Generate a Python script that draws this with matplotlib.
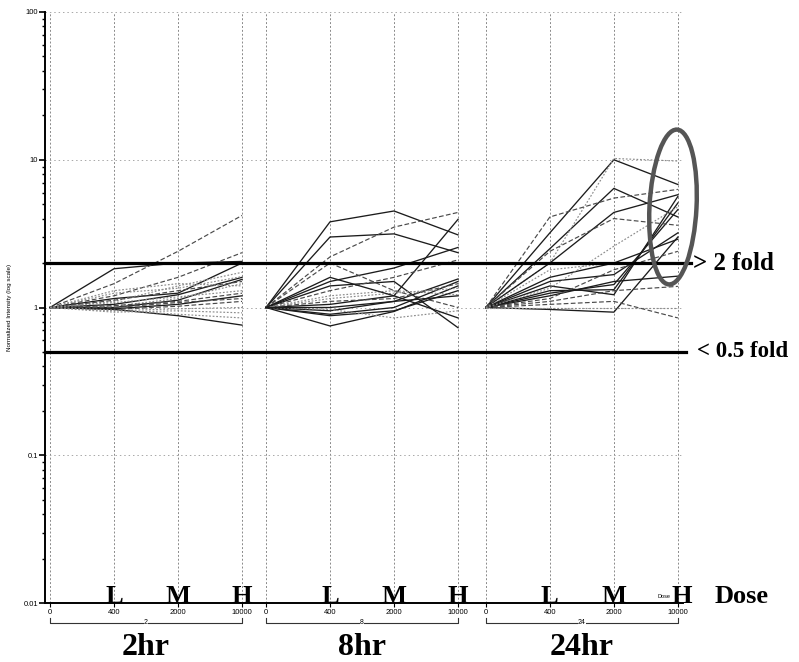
import numpy as np
import matplotlib
matplotlib.use("Agg")
import matplotlib.pyplot as plt
from matplotlib.patches import Ellipse
from matplotlib.transforms import IdentityTransform
from matplotlib.ticker import LogLocator, NullFormatter

# dose points and time panels
doses = ["0", "400", "2000", "10000"]
dose_letters = ["L", "M", "H"]
times = ["2", "8", "24"]
time_labels = ["2hr", "8hr", "24hr"]

# normalized intensity per gene (values at dose 0, 400, 2000, 10000)
hr2 = [
    [1, 1.83, 2.0, 2.05],
    [1, 1.45, 2.4, 4.2],
    [1, 1.2, 1.6, 2.35],
    [1, 1.15, 1.25, 2.0],
    [1, 1.1, 1.4, 1.73],
    [1, 1.05, 1.22, 1.6],
    [1, 1.0, 1.12, 1.55],
    [1, 1.02, 1.15, 1.45],
    [1, 1.12, 1.3, 1.5],
    [1, 0.98, 1.05, 1.2],
    [1, 1.0, 1.08, 1.15],
    [1, 0.97, 1.02, 1.1],
    [1, 0.95, 0.98, 1.0],
    [1, 0.97, 0.88, 0.76],
    [1, 0.93, 0.95, 0.92],
    [1, 1.25, 1.35, 1.62],
    [1, 1.03, 1.1, 1.25],
    [1, 1.08, 1.18, 1.3],
    [1, 0.96, 0.9, 0.85],
    [1, 1.3, 1.45, 1.4],
]
hr8 = [
    [1, 3.8, 4.5, 3.1],
    [1, 3.0, 3.15, 2.35],
    [1, 2.2, 3.5, 4.4],
    [1, 1.05, 1.2, 3.95],
    [1, 1.5, 1.85, 2.55],
    [1, 0.95, 1.1, 1.56],
    [1, 0.75, 0.94, 1.4],
    [1, 1.4, 1.5, 0.73],
    [1, 2.0, 1.3, 1.0],
    [1, 1.2, 1.3, 1.22],
    [1, 1.3, 1.6, 2.1],
    [1, 0.9, 1.0, 1.5],
    [1, 1.1, 1.15, 1.45],
    [1, 0.88, 0.95, 1.3],
    [1, 1.15, 1.25, 1.35],
    [1, 0.97, 0.85, 0.95],
    [1, 1.6, 1.2, 0.85],
    [1, 1.0, 1.1, 1.2],
]
hr24 = [
    [1, 3.2, 10.0, 6.8],
    [1, 2.5, 6.4, 4.1],
    [1, 2.0, 10.2, 9.8],
    [1, 4.1, 5.5, 6.3],
    [1, 2.0, 4.4, 5.8],
    [1, 1.4, 1.22, 5.65],
    [1, 1.3, 1.32, 5.1],
    [1, 1.25, 1.43, 4.6],
    [1, 1.5, 1.67, 3.2],
    [1, 1.6, 2.0, 2.9],
    [1, 0.97, 0.93, 3.0],
    [1, 1.2, 1.5, 1.63],
    [1, 1.1, 1.3, 1.39],
    [1, 1.0, 1.0, 1.0],
    [1, 1.8, 2.0, 2.0],
    [1, 2.4, 4.0, 3.6],
    [1, 1.15, 1.8, 2.4],
    [1, 1.05, 1.1, 0.85],
    [1, 1.35, 2.6, 4.8],
]
panels = [hr2, hr8, hr24]

# line look: s = solid, d = dashed, o = dotted
style2 = list("sddsossodsddosoodoo")+["o"]
style8 = list("ssdsssssdodsdsoos")+["s"]
style24 = list("ssodssssssssdoodddo")
styles = [style2, style8, style24]
look = {
    "s": dict(color="#1c1c1c", lw=0.95, ls="-"),
    "d": dict(color="#4a4a4a", lw=0.85, ls=(0, (4, 2))),
    "o": dict(color="#8c8c8c", lw=0.85, ls=(0, (1.5, 1.5))),
}

offsets = [0, 3.375, 6.81]
serif = "Liberation Serif"
sans = "Liberation Sans"

fig = plt.figure(figsize=(7.99, 6.62), dpi=100)
ax = fig.add_axes([45 / 799, 59 / 662, 638 / 799, 591 / 662])
ax.set_yscale("log")
ax.set_ylim(0.01, 100)
ax.set_xlim(-0.078, 9.89)

xpos = []
for off in offsets:
    xpos += [off + i for i in range(4)]

# grid
for x in xpos:
    ax.axvline(x, color="#8a8a8a", lw=0.7, ls=(0, (2, 2)), zorder=0)
for y in [0.1, 1, 10, 100]:
    ax.axhline(y, color="#a8a8a8", lw=0.7, ls=(0, (1.5, 3)), zorder=0, clip_on=False)

# gene lines
for p, data in enumerate(panels):
    xs = offsets[p] + np.arange(4)
    for vals, st in zip(data, styles[p]):
        ax.plot(xs, vals, zorder=2, **look[st])

# fold thresholds
ax.axhline(2, xmin=0, xmax=1.012, color="black", lw=2.3, clip_on=False, zorder=3)
ax.axhline(0.5, xmin=0, xmax=1.005, color="black", lw=2.3, clip_on=False, zorder=3)
ax.text(1.016, 2, "> 2 fold", transform=ax.get_yaxis_transform(), fontsize=18,
        fontweight="bold", family=serif, va="center", ha="left")
ax.text(1.022, 0.5, "< 0.5 fold", transform=ax.get_yaxis_transform(), fontsize=16.5,
        fontweight="bold", family=serif, va="center", ha="left")

# axes styling
for sp in ["top", "right"]:
    ax.spines[sp].set_visible(False)
ax.spines["left"].set_linewidth(1.4)
ax.spines["bottom"].set_linewidth(1.4)
ax.set_yticks([0.01, 0.1, 1, 10, 100])
ax.set_yticklabels(["0.01", "0.1", "1", "10", "100"], fontsize=5.5, family=sans)
ax.yaxis.set_minor_locator(LogLocator(base=10, subs=np.arange(2, 10)))
ax.yaxis.set_minor_formatter(NullFormatter())
ax.tick_params(axis="y", which="major", length=4, width=1.2, pad=1)
ax.tick_params(axis="y", which="minor", length=2.5, width=1.0)
ax.set_xticks(xpos)
ax.set_xticklabels(doses * 3, fontsize=5.5, family=sans)
ax.tick_params(axis="x", length=3, width=0.8, pad=1.5)
ax.set_ylabel("Normalized Intensity (log scale)", fontsize=4.5, family=sans, labelpad=8)

# dose letters and panel brackets
xt = ax.get_xaxis_transform()
for p, off in enumerate(offsets):
    for i, let in enumerate(dose_letters):
        dx = 0.06 if (p == 2 and i == 2) else 0.0
        ax.text(off + i + 1 + dx, 0.0, let, transform=xt, fontsize=19, fontweight="bold",
                family=serif, ha="center", va="baseline", zorder=4)
    ax.plot([off, off, off + 3, off + 3], [-0.025, -0.033, -0.033, -0.025], color="#333333",
            lw=0.8, transform=xt, clip_on=False)
    ax.text(off + 1.5, -0.033, times[p], transform=xt, fontsize=5, family=sans,
            ha="center", va="center", bbox=dict(facecolor="white", edgecolor="none", pad=0.3))
    ax.text(off + 1.5, -0.076, time_labels[p], transform=xt, fontsize=23, fontweight="bold",
            family=serif, ha="center", va="center")

ax.text(offsets[2] + 2.78, 0.008, "Dose", transform=xt, fontsize=4, family=sans,
        ha="center", va="baseline")
ax.text(1.05, 0.0, "Dose", transform=ax.transAxes, fontsize=19, fontweight="bold",
        family=serif, ha="left", va="baseline")

# highlight ellipse around 24hr high dose
fig.add_artist(Ellipse((673, 455), 47, 155, angle=-3, fill=False, edgecolor="#555555",
                       lw=3.2, transform=IdentityTransform(), zorder=5))

fig.savefig("out.png", dpi=100)
